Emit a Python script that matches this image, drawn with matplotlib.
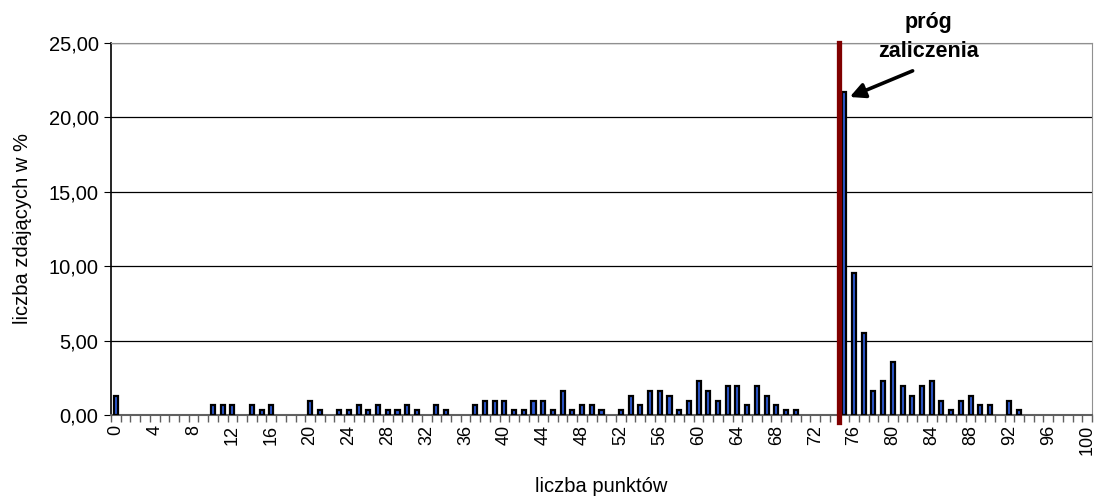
import numpy as np
import matplotlib
matplotlib.use("Agg")
import matplotlib.pyplot as plt
from matplotlib.ticker import FuncFormatter

# ===== DATA =====
points = list(range(0, 101))
percent = [
    1.29, 0, 0, 0, 0, 0, 0, 0, 0, 0,            # 0-9
    0.65, 0.65, 0.65, 0, 0.65, 0.32, 0.65, 0, 0, 0,  # 10-19
    0.97, 0.32, 0, 0.32, 0.32, 0.65, 0.32, 0.65, 0.32, 0.32,  # 20-29
    0.65, 0.32, 0, 0.65, 0.32, 0, 0, 0.65, 0.97, 0.97,  # 30-39
    0.97, 0.32, 0.32, 0.97, 0.97, 0.32, 1.62, 0.32, 0.65, 0.65,  # 40-49
    0.32, 0, 0.32, 1.29, 0.65, 1.62, 1.62, 1.29, 0.32, 0.97,  # 50-59
    2.27, 1.62, 0.97, 1.94, 1.94, 0.65, 1.94, 1.29, 0.65, 0.32,  # 60-69
    0.32, 0, 0, 0, 0, 21.68, 9.55, 5.50, 1.62, 2.27,  # 70-79
    3.56, 1.94, 1.29, 1.94, 2.27, 0.97, 0.32, 0.97, 1.29, 0.65,  # 80-89
    0.65, 0, 0.97, 0.32, 0, 0, 0, 0, 0, 0,  # 90-99
    0,  # 100
]
threshold = 74.5
x_labels = list(range(0, 101, 4))

plt.rcParams["font.family"] = ["Liberation Sans", "DejaVu Sans"]

fig = plt.figure(figsize=(10.97, 4.97), dpi=100)
ax = fig.add_axes([0.1012, 0.165, 0.8942, 0.7485])

# bars (empty scores have no bar)
xs = [p for p, v in zip(points, percent) if v > 0]
ys = [v for v in percent if v > 0]
ax.bar(xs, ys, width=0.42, color="#2f5bd6", edgecolor="black", linewidth=1.6, zorder=3)

# threshold line
ax.axvline(threshold, ymin=-0.02, ymax=1, color="#800000", linewidth=3.8, clip_on=False, zorder=4)

# annotation
ax.annotate("", xy=(75.3, 21.3), xytext=(82.3, 23.2),
            arrowprops=dict(arrowstyle="-|>,head_length=0.9,head_width=0.45", color="black", lw=2.6),
            zorder=5)
ax.text(83.7, 23.7, "próg\nzaliczenia", ha="center", va="bottom", fontsize=15.5,
        fontweight="bold", linespacing=1.5, clip_on=False)

# axes
ax.set_xlim(-0.5, 100.5)
ax.set_ylim(0, 25)
ax.set_yticks(np.arange(0, 26, 5))
ax.yaxis.set_major_formatter(FuncFormatter(lambda v, p: f"{v:.2f}".replace(".", ",")))
ax.grid(axis="y", color="black", linewidth=0.9, zorder=1)
ax.set_axisbelow(True)

ax.set_xticks(x_labels)
ax.set_xticklabels([str(v) for v in x_labels], rotation=90)
ax.set_xticks(np.arange(-0.5, 101, 1), minor=True)
ax.tick_params(axis="x", which="major", length=0, pad=7, labelsize=13)
ax.tick_params(axis="x", which="minor", length=5, color="#606060", width=1)
ax.tick_params(axis="y", length=5, labelsize=14.5, pad=4)

for side in ["top", "right"]:
    ax.spines[side].set_color("#909090")
ax.spines["left"].set_color("black")
ax.spines["left"].set_linewidth(1.2)
ax.spines["bottom"].set_color("#606060")
ax.spines["bottom"].set_linewidth(1.5)

ax.set_xlabel("liczba punktów", fontsize=14.5, labelpad=16)
ax.set_ylabel("liczba zdających w %", fontsize=14.5, labelpad=12)

fig.savefig("out.png", dpi=100)
